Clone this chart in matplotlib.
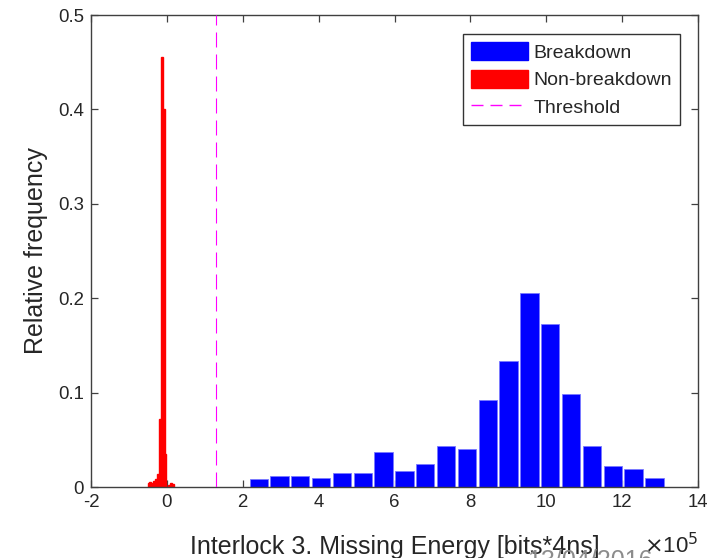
import numpy as np
import matplotlib
matplotlib.use("Agg")
import matplotlib.pyplot as plt
from matplotlib.patches import Patch
from matplotlib.lines import Line2D

plt.rcParams['font.family'] = ['Liberation Sans', 'DejaVu Sans']

# Missing energy, in units of 1e5 bits*4ns
breakdown_start = 2.145
breakdown_bin = 0.549
breakdown_freq = [0.0082, 0.0117, 0.0117, 0.0099, 0.0152, 0.0152, 0.0367, 0.0170,
                  0.0240, 0.0437, 0.0400, 0.0918, 0.1340, 0.2050, 0.1730, 0.0985,
                  0.0437, 0.0222, 0.0187, 0.0099]

nonbreakdown_start = -0.51
nonbreakdown_bin = 0.05
nonbreakdown_freq = [0.004, 0.005, 0.004, 0.006, 0.008, 0.014, 0.072, 0.455,
                     0.400, 0.035, 0.000, 0.002, 0.004, 0.003]

threshold = 1.29

W, H = 718, 558
fig = plt.figure(figsize=(W / 100, H / 100), dpi=100)
ax = fig.add_axes([91 / W, 1 - 487 / H, (698 - 91) / W, (487 - 15) / H])

b_centers = breakdown_start + breakdown_bin * (np.arange(len(breakdown_freq)) + 0.5)
ax.bar(b_centers, breakdown_freq, width=breakdown_bin * 0.88, color='#0000ff',
       edgecolor='#7a7aff', linewidth=0.6, zorder=2)

nb_left = nonbreakdown_start + nonbreakdown_bin * np.arange(len(nonbreakdown_freq))
ax.bar(nb_left, nonbreakdown_freq, width=nonbreakdown_bin, align='edge',
       color='#ff0000', edgecolor='#ff0000', linewidth=1.0, zorder=2)

lw = 0.8
ax.plot([threshold, threshold], [0, 0.5], color='#ff00ff', linewidth=lw,
        linestyle=(0, (15 * 0.72 / lw, 7 * 0.72 / lw)), zorder=3)

ax.set_xlim(-2, 14)
ax.set_ylim(0, 0.5)
ax.set_xticks(np.arange(-2, 15, 2))
ax.set_xticklabels([str(v) for v in range(-2, 15, 2)])
ax.set_yticks([0, 0.1, 0.2, 0.3, 0.4, 0.5])
ax.set_yticklabels(['0', '0.1', '0.2', '0.3', '0.4', '0.5'])

text_col = '#262626'
ax.tick_params(direction='in', length=5, width=0.9, top=True, right=True,
               labelsize=13.4, colors='#404040', labelcolor=text_col, pad=5)
for s in ax.spines.values():
    s.set_color('#404040')
    s.set_linewidth(1.0)

ax.set_xlabel('Interlock 3. Missing Energy [bits*4ns]', fontsize=18, color=text_col,
              labelpad=17)
ax.set_ylabel('Relative frequency', fontsize=18, color=text_col, labelpad=7)

fig.text(527 / W, 1 - 549 / H, '13/04/2016', fontsize=18, color='#8c8c8c',
         ha='left', va='top')
fig.text(698 / W, 1 - 546 / H, r'$\times$10$^5$', fontsize=16, color=text_col,
         ha='right', va='center')

handles = [Patch(facecolor='#0000ff', edgecolor='#0000ff'),
           Patch(facecolor='#ff0000', edgecolor='#ff0000'),
           Line2D([0], [0], color='#ff00ff', linewidth=1.0,
                  linestyle=(0, (12 * 0.72, 7 * 0.72)))]
leg = ax.legend(handles, ['Breakdown', 'Non-breakdown', 'Threshold'],
                loc='upper right', bbox_to_anchor=((680 - 91) / 607, (487 - 34) / 472),
                borderaxespad=0, fontsize=14, frameon=True, fancybox=False,
                edgecolor='#333333', framealpha=1, handlelength=2.95,
                handleheight=1.1, handletextpad=0.3, labelspacing=0.4,
                borderpad=0.4)
leg.get_frame().set_linewidth(1.0)
for t in leg.get_texts():
    t.set_color(text_col)

fig.savefig('out.png', dpi=100)
